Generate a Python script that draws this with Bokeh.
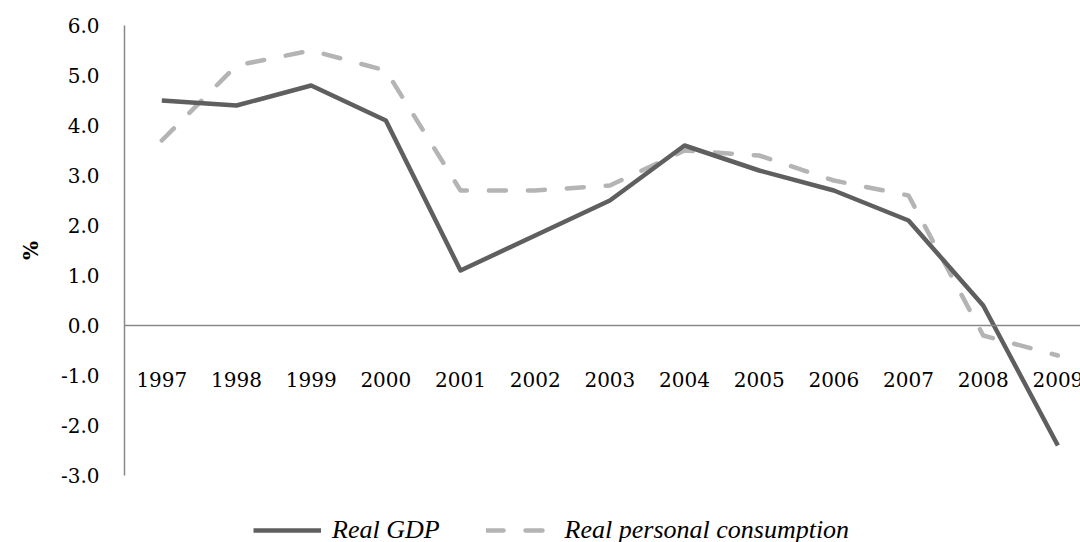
from bokeh.plotting import figure
from bokeh.models import (Range1d, Span, FixedTicker, PrintfTickFormatter,
                          Legend, LegendItem, ColumnDataSource, Title)
from bokeh.core.properties import value
from bokeh.embed import file_html
from bokeh.resources import INLINE

# ---- data ----
years = ["1997", "1998", "1999", "2000", "2001", "2002", "2003",
         "2004", "2005", "2006", "2007", "2008", "2009"]
real_gdp = [4.5, 4.4, 4.8, 4.1, 1.1, 1.8, 2.5, 3.6, 3.1, 2.7, 2.1, 0.4, -2.4]
real_consumption = [3.7, 5.2, 5.5, 5.1, 2.7, 2.7, 2.8, 3.5, 3.4, 2.9, 2.6, -0.2, -0.6]
y_ticks = [-3, -2, -1, 0, 1, 2, 3, 4, 5, 6]
y_min, y_max = -3, 6

# ---- layout constants (pixels) ----
FIG_W, FIG_H = 1080, 542
LEFT, TOP = 124, 25
CAT_PX = 74.67        # pixels per category
UNIT_PX = 50.0        # pixels per 1.0 on the value axis
frame_w = FIG_W - LEFT
frame_h = FIG_H - TOP
x_idx = list(range(len(years)))
y_lo = y_max - frame_h / UNIT_PX

p = figure(width=FIG_W, height=FIG_H, output_backend="svg", toolbar_location=None,
           x_range=Range1d(-0.5, -0.5 + frame_w / CAT_PX),
           y_range=Range1d(y_lo, y_max),
           min_border_left=LEFT, min_border_top=TOP, min_border_bottom=0,
           min_border_right=0)
p.outline_line_color = None
p.background_fill_color = "white"
p.border_fill_color = "white"
p.xgrid.visible = False
p.ygrid.visible = False
p.xaxis.visible = False

AX_COLOR = "#898989"
yax = p.yaxis[0]
yax.bounds = (y_min, y_max)
yax.ticker = FixedTicker(ticks=y_ticks)
yax.formatter = PrintfTickFormatter(format="%.1f")
yax.major_tick_line_color = None
yax.minor_tick_line_color = None
yax.major_tick_in = 0
yax.major_tick_out = 0
yax.axis_line_color = AX_COLOR
yax.axis_line_width = 1.5
yax.major_label_standoff = 25
yax.major_label_text_font = "DejaVu Serif"
yax.major_label_text_font_size = "20px"
yax.major_label_text_color = "black"

# "%" label, centred on the -3..6 span of the axis (offset measured up from frame bottom)
LABEL_LEN = 19
pct_offset = ((y_max + y_min) / 2 - y_lo) * UNIT_PX - LABEL_LEN / 2
p.add_layout(Title(text="%", align="left", offset=pct_offset, standoff=30,
                   text_font="DejaVu Serif", text_font_style="bold",
                   text_font_size="20px", text_color="black"), "left")

p.add_layout(Span(location=0, dimension="width", line_color=AX_COLOR, line_width=1.5))

# category labels under the zero line
lab_src = ColumnDataSource(dict(x=x_idx, y=[0] * len(years), t=years))
p.text(x="x", y="y", text="t", source=lab_src, text_align="center",
       text_baseline="alphabetic", y_offset=54,
       text_font=value("DejaVu Serif"), text_font_size="20px", text_color="black")

r_cons = p.line(x_idx, real_consumption, line_color="#b4b4b4", line_width=4.5,
                line_dash="17 22", line_cap="round", line_join="round")
r_gdp = p.line(x_idx, real_gdp, line_color="#5f5f5f", line_width=4.5,
               line_join="round")

legend = Legend(items=[LegendItem(label="Real GDP", renderers=[r_gdp]),
                       LegendItem(label="Real personal consumption", renderers=[r_cons])],
                orientation="horizontal", location=(129, -3),
                glyph_width=68, glyph_height=20, label_standoff=11, spacing=46,
                padding=0, margin=0, border_line_color=None,
                background_fill_alpha=0,
                label_text_font="Liberation Serif", label_text_font_style="italic",
                label_text_font_size="26px", label_text_color="black")
p.add_layout(legend, "center")

open("out.html", "w").write(file_html(p, INLINE))
